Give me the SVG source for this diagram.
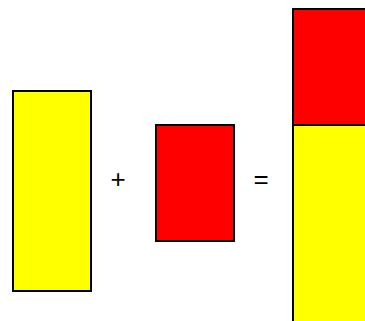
<svg xmlns="http://www.w3.org/2000/svg" width="365" height="321" viewBox="0 0 365 321">
<style>
.b{stroke:#000;stroke-width:2}
.y{fill:#ffff00}
.r{fill:#ff0000}
.t{font-family:"Liberation Sans",Arial,sans-serif;font-size:26px;fill:#000;text-anchor:middle}
</style>
<rect width="365" height="321" fill="#fff"/>
<g id="yellow-left"><rect class="b y" x="13" y="91" width="78" height="200"/></g>
<text class="t" x="118" y="188">+</text>
<g id="red-middle"><rect class="b r" x="156" y="125" width="78" height="116"/></g>
<text class="t" x="261" y="188">=</text>
<g id="stack">
<rect class="b r" x="293" y="9" width="78" height="116"/>
<rect class="b y" x="293" y="125" width="78" height="200"/>
</g>
</svg>
